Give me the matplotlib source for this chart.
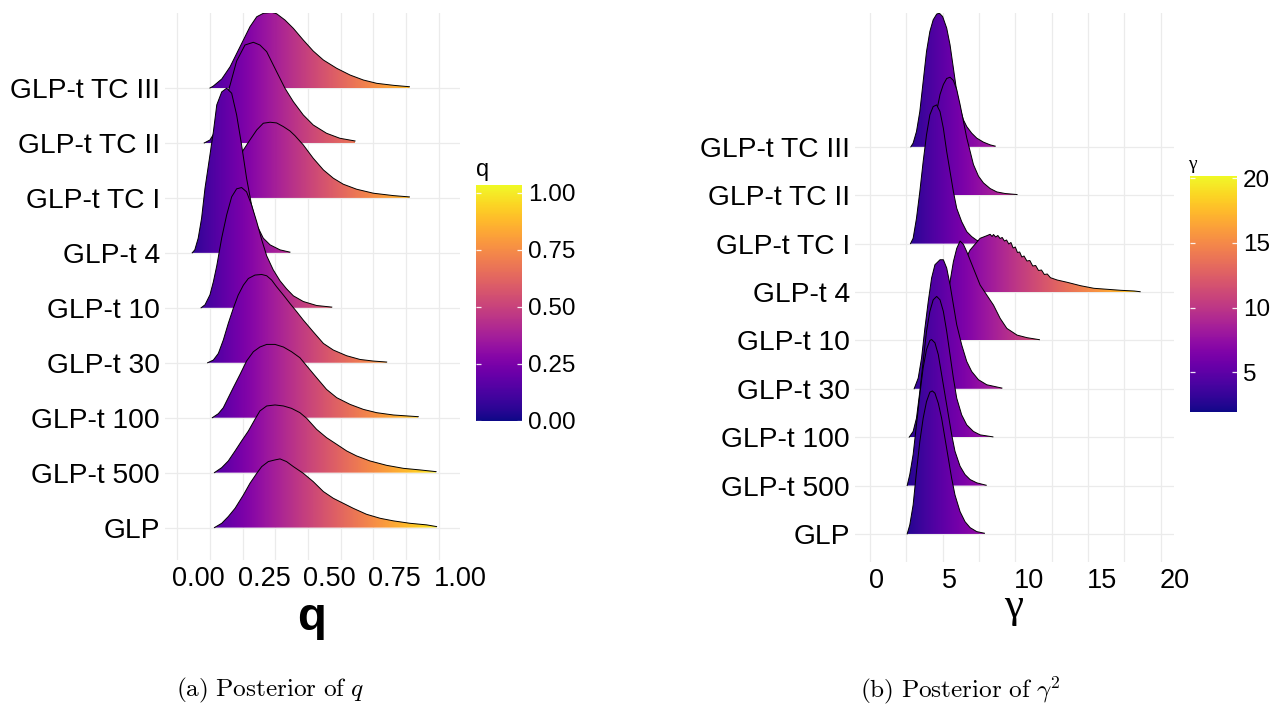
import numpy as np
import matplotlib
matplotlib.use('Agg')
import matplotlib.pyplot as plt
from matplotlib.patches import Polygon
from matplotlib.colors import Normalize
from matplotlib.cm import ScalarMappable
from matplotlib.transforms import ScaledTranslation

plt.rcParams['font.family'] = ['Liberation Sans', 'DejaVu Sans']
plt.rcParams['mathtext.fontset'] = 'cm'

cats = ['GLP', 'GLP-t 500', 'GLP-t 100', 'GLP-t 30', 'GLP-t 10',
        'GLP-t 4', 'GLP-t TC I', 'GLP-t TC II', 'GLP-t TC III']

# ---- posterior of q : traced density (relative height) ----
q_glp_x = [0.142, 0.170, 0.195, 0.221, 0.253, 0.278, 0.304, 0.323, 0.348, 0.374, 0.393, 0.418, 0.444,
           0.482, 0.520, 0.559, 0.597, 0.635, 0.673, 0.724, 0.776, 0.827, 0.890, 0.954, 0.992]
q_glp_d = [0, 4.3, 11, 19.3, 32.7, 44.3, 54.3, 61, 66, 67.7, 68.7, 66, 61,
           54.3, 46, 36, 29.3, 24.3, 19.3, 13.3, 9.3, 6.7, 4.3, 2.7, 1]
q_t500_x = [0.142, 0.170, 0.195, 0.221, 0.246, 0.272, 0.297, 0.316, 0.342, 0.374, 0.406, 0.437, 0.469,
            0.495, 0.533, 0.571, 0.610, 0.648, 0.686, 0.737, 0.801, 0.865, 0.929, 0.990]
q_t500_d = [0, 5, 11.7, 21.7, 31.7, 41.7, 53.3, 61.7, 66.7, 67.7, 66.7, 64.3, 60,
            54.3, 43.3, 35, 28.3, 21.7, 16.7, 11.7, 7.3, 4.3, 2.7, 1]
q_t100_x = [0.134, 0.157, 0.176, 0.195, 0.214, 0.240, 0.265, 0.291, 0.316, 0.342, 0.374, 0.406, 0.437,
            0.469, 0.501, 0.533, 0.571, 0.610, 0.661, 0.712, 0.763, 0.827, 0.922]
q_t100_d = [0, 4, 10, 20, 30, 43.3, 56.7, 66, 70.7, 73.3, 73.3, 70.7, 66,
            60, 50, 40, 28.3, 20, 13.3, 8.3, 5, 2.7, 1]
q_t30_x = [0.116, 0.138, 0.157, 0.176, 0.195, 0.214, 0.233, 0.253, 0.272, 0.297, 0.323, 0.342, 0.361,
           0.380, 0.406, 0.431, 0.457, 0.482, 0.520, 0.559, 0.597, 0.648, 0.699, 0.750, 0.801]
q_t30_d = [0, 2.7, 9.3, 22.7, 39.3, 54.3, 67.7, 77.7, 84.3, 87.7, 88.3, 87, 82.7,
           76, 67.7, 59.3, 51, 42.7, 31, 19.3, 12.7, 7, 3.3, 1.7, 0.7]
q_t10_x = [0.091, 0.106, 0.125, 0.138, 0.151, 0.170, 0.189, 0.208, 0.227, 0.246, 0.265, 0.284, 0.304,
           0.323, 0.342, 0.367, 0.393, 0.418, 0.444, 0.482, 0.533, 0.591]
q_t10_d = [0, 3, 13, 26, 42, 70, 93, 111, 119, 120.3, 116, 103, 86,
           68, 52, 38, 27, 19, 12, 6.3, 2.3, 0.7]
q_t4_x = [0.057, 0.067, 0.080, 0.093, 0.106, 0.125, 0.138, 0.151, 0.170, 0.189, 0.208, 0.227, 0.246,
          0.265, 0.284, 0.304, 0.329, 0.355, 0.393, 0.431]
q_t4_d = [0, 3, 14.7, 34.7, 64.7, 98, 121, 148, 161, 164.7, 159.7, 138, 108,
          74.7, 48, 28, 14.7, 8, 3, 0.7]
q_tc1_x = [0.125, 0.157, 0.189, 0.221, 0.253, 0.278, 0.304, 0.329, 0.355, 0.380, 0.406, 0.431, 0.450,
           0.482, 0.520, 0.559, 0.597, 0.635, 0.686, 0.750, 0.827, 0.888]
q_tc1_d = [0, 5, 15, 32, 48, 58, 68, 74.7, 75.7, 75, 71.3, 67, 62.3,
           53, 39.7, 28, 19.7, 13.7, 8.7, 4.7, 2.3, 1]
q_tc2_x = [0.103, 0.125, 0.151, 0.176, 0.202, 0.227, 0.259, 0.291, 0.316, 0.342, 0.380, 0.412, 0.444,
           0.482, 0.520, 0.571, 0.622, 0.680]
q_tc2_d = [0, 3, 14, 35, 58, 82, 98, 100.7, 98, 91.3, 71.3, 54.7, 41.3,
           28, 18, 9.7, 4.7, 2]
q_tc3_x = [0.125, 0.138, 0.170, 0.202, 0.240, 0.278, 0.304, 0.329, 0.361, 0.380, 0.412, 0.444, 0.482,
           0.520, 0.559, 0.610, 0.661, 0.712, 0.763, 0.827, 0.888]
q_tc3_d = [0, 2, 9, 21.3, 41.3, 61.3, 71.3, 74.7, 75.7, 74.3, 68, 59.7, 48,
           37, 28, 19.7, 13, 8, 4.7, 2.7, 1.3]

# ---- posterior of gamma : traced density (relative height) ----
g_glp_x = [2.56, 2.74, 2.97, 3.20, 3.43, 3.66, 3.89, 4.12, 4.29, 4.47, 4.70, 4.93, 5.16, 5.39,
           5.62, 5.85, 6.20, 6.54, 6.89, 7.35, 7.88]
g_glp_d = [0, 9, 29, 62.3, 92.3, 115.7, 132.3, 141.7, 143, 140.7, 130.7, 115.7, 95.7, 75.7,
           55.7, 39, 22.3, 12.3, 6.3, 2.3, 0.7]
g_t500_x = [2.56, 2.74, 2.97, 3.20, 3.43, 3.66, 3.89, 4.12, 4.24, 4.47, 4.70, 4.93, 5.16, 5.39,
            5.62, 5.85, 6.20, 6.54, 6.89, 7.35, 8.00]
g_t500_d = [0, 11, 31, 61, 91, 117.7, 136, 145, 146, 142.7, 131, 111, 91, 71,
            51, 34.3, 19.3, 11, 6, 2.7, 0.3]
g_t100_x = [2.70, 2.97, 3.20, 3.43, 3.66, 3.89, 4.12, 4.35, 4.59, 4.82, 5.05, 5.28, 5.51, 5.74,
            5.97, 6.31, 6.66, 7.12, 7.58, 8.46]
g_t100_d = [0, 5.7, 19, 45.7, 75.7, 105.7, 125.7, 137.3, 140.7, 137.3, 125.7, 105.7, 82.3, 59,
            39, 22.3, 12.3, 5.7, 2.3, 0.3]
g_t30_x = [3.04, 3.32, 3.55, 3.78, 4.01, 4.24, 4.47, 4.82, 5.05, 5.28, 5.51, 5.74, 5.97, 6.31,
           6.66, 7.00, 7.47, 8.04, 9.08]
g_t30_d = [0, 10.7, 30.7, 60.7, 87.3, 110.7, 124, 129, 129, 120.7, 104, 84, 64, 44,
           27.3, 17.3, 9, 4, 0.7]
g_t10_x = [3.8, 4.1, 4.5, 4.9, 5.2, 5.39, 5.51, 5.74, 5.97, 6.20, 6.43, 6.66, 7.12,
           7.58, 8.04, 8.50, 8.96, 9.42, 10.12, 10.81, 11.66]
g_t10_d = [0, 4, 14, 28, 41, 48.7, 58.7, 78.7, 92, 99.3, 96, 88.7, 72,
           55.3, 45.3, 35.3, 22, 12, 5.3, 2.7, 0.7]
g_t4_x = [4.17, 4.82, 5.51, 6.20, 6.89, 7.58, 8.04, 8.27, 8.4, 8.5, 8.65, 8.8, 8.95, 9.1,
          9.25, 9.4, 9.55, 9.7, 9.85, 10.0, 10.15, 10.3, 10.45, 10.6, 10.8, 11.0, 11.2, 11.4,
          11.6, 11.8, 12.0, 12.2, 12.42, 12.88, 13.57, 14.49, 15.41, 16.34, 17.26, 18.18, 18.59]
g_t4_d = [0, 3, 10, 22, 42, 53.7, 56.3, 57.7, 55.5, 57.5, 55, 56.5, 53.5, 54.5,
          51, 52, 48, 49.5, 44, 45, 39.5, 40, 35, 36, 31, 31.5, 26, 26.5,
          21.5, 22, 17.5, 18, 14.3, 12, 9.7, 6.3, 3.7, 2.7, 1.7, 1, 0.3]
g_tc1_x = [2.79, 2.97, 3.20, 3.43, 3.66, 3.89, 4.12, 4.35, 4.59, 4.82, 5.05, 5.28, 5.51, 5.74,
           5.97, 6.31, 6.66, 7.00, 7.35, 7.81, 8.50]
g_tc1_d = [0, 5.3, 25.3, 52, 82, 108.7, 128.7, 137, 138.7, 132, 115.3, 92, 72, 52,
           35.3, 22, 12, 7, 3.3, 1.5, 0.5]
g_tc2_x = [3.43, 3.66, 3.89, 4.12, 4.35, 4.59, 4.82, 5.05, 5.28, 5.51, 5.74, 5.97, 6.20, 6.43,
           6.66, 6.89, 7.12, 7.47, 7.81, 8.27, 8.73, 9.31, 10.12]
g_tc2_d = [0, 4, 14, 34, 60.7, 84, 100.7, 110.7, 116.7, 118, 114.7, 105.7, 90.7, 74,
           57.3, 44, 30.7, 19, 12.3, 6.7, 3.3, 1.7, 0.7]
g_tc3_x = [2.81, 2.97, 3.20, 3.43, 3.66, 3.89, 4.12, 4.35, 4.59, 4.77, 5.00, 5.28, 5.51, 5.74,
           5.97, 6.20, 6.43, 6.66, 7.00, 7.35, 7.81, 8.27, 8.62]
g_tc3_d = [0, 3.7, 15.3, 35.3, 65.3, 95.3, 115.3, 127, 132.7, 133.7, 130.3, 118.7, 102, 78.7,
           55.3, 38.7, 27, 20.3, 13.7, 8.7, 4.7, 2, 0.7]

q_curves = [(q_glp_x, q_glp_d), (q_t500_x, q_t500_d), (q_t100_x, q_t100_d), (q_t30_x, q_t30_d),
            (q_t10_x, q_t10_d), (q_t4_x, q_t4_d), (q_tc1_x, q_tc1_d), (q_tc2_x, q_tc2_d),
            (q_tc3_x, q_tc3_d)]
g_curves = [(g_glp_x, g_glp_d), (g_t500_x, g_t500_d), (g_t100_x, g_t100_d), (g_t30_x, g_t30_d),
            (g_t10_x, g_t10_d), (g_t4_x, g_t4_d), (g_tc1_x, g_tc1_d), (g_tc2_x, g_tc2_d),
            (g_tc3_x, g_tc3_d)]

q_ticks = [0, 0.25, 0.5, 0.75, 1.0]
q_ticklabels = ['0.00', '0.25', '0.50', '0.75', '1.00']
g_ticks = [0, 5, 10, 15, 20]


def ridges(ax, curves, scale, norm):
    n = len(curves)
    for i in range(n - 1, -1, -1):
        xs, ds = curves[i]
        x = np.array(xs)
        y = i + np.array(ds) * scale
        z = 2 + (n - i)
        verts = list(zip(x, y)) + [(x[-1], i), (x[0], i)]
        poly = Polygon(verts, closed=True, facecolor='none', edgecolor='none')
        ax.add_patch(poly)
        grad = np.linspace(x[0], x[-1], 400).reshape(1, -1)
        im = ax.imshow(grad, extent=(x[0], x[-1], i, y.max()), origin='lower',
                       cmap='plasma', norm=norm, aspect='auto', zorder=z,
                       interpolation='bilinear')
        im.set_clip_path(poly)
        ax.plot(x, y, color='black', lw=0.7, zorder=z + 0.5)


def style(ax, fig, xdx):
    for s in ax.spines.values():
        s.set_visible(False)
    ax.set_yticks(range(len(cats)))
    ax.set_yticklabels(cats)
    ax.tick_params(axis='both', which='both', length=0, colors='black')
    ax.tick_params(axis='x', labelsize=19.5, pad=4.5)
    ax.tick_params(axis='y', labelsize=20.3, pad=3.6)
    ax.grid(True, which='both', color='#ebebeb', lw=0.9)
    ax.set_axisbelow(True)
    for lab in ax.get_xticklabels():
        lab.set_horizontalalignment('left')
        lab.set_transform(lab.get_transform() + ScaledTranslation(xdx / 100, 0, fig.dpi_scale_trans))


W, H = 1281, 712
fig = plt.figure(figsize=(W / 100, H / 100), dpi=100)

# left panel: q
ax1 = fig.add_axes([165 / W, 1 - 560 / H, 295 / W, 546.7 / H])
norm_q = Normalize(0, 1.034)
ridges(ax1, q_curves, 1 / 54.96, norm_q)
ax1.set_xticks(q_ticks)
ax1.set_xticklabels(q_ticklabels)
ax1.set_xticks([0.125, 0.375, 0.625, 0.875], minor=True)
ax1.set_xlim(-0.047, 1.0815)
ax1.set_ylim(-0.59, 9.36)
style(ax1, fig, -5)
fig.text(312 / W, 1 - 630 / H, 'q', ha='center', va='baseline', fontsize=34, fontweight='bold')

# right panel: gamma
ax2 = fig.add_axes([855 / W, 1 - 562 / H, 319 / W, 548.7 / H])
norm_g = Normalize(1.91, 20.2)
ridges(ax2, g_curves, 1 / 48.375, norm_g)
ax2.set_xticks(g_ticks)
ax2.set_xticks([2.5, 7.5, 12.5, 17.5], minor=True)
ax2.set_xlim(-1.03, 20.92)
ax2.set_ylim(-0.58, 10.76)
style(ax2, fig, -1)
fig.text(1014 / W, 1 - 617 / H, 'γ', ha='center', va='baseline', fontsize=31,
         family=['Liberation Serif', 'DejaVu Serif'])

# colour bars
def colourbar(rect, norm, ticks, labels, title, title_xy, title_kw):
    cax = fig.add_axes(rect)
    cb = fig.colorbar(ScalarMappable(norm=norm, cmap='plasma'), cax=cax)
    cb.outline.set_visible(False)
    cb.set_ticks(ticks)
    cb.set_ticklabels(labels)
    cax.tick_params(length=0, labelsize=17.5, pad=4)
    for t in ticks:
        cax.hlines(t, 0, 0.11, colors='white', lw=0.9, alpha=0.9)
        cax.hlines(t, 0.89, 1, colors='white', lw=0.9, alpha=0.9)
    fig.text(title_xy[0] / W, 1 - title_xy[1] / H, title, ha='left', va='baseline', **title_kw)


colourbar([475.7 / W, 1 - 420.7 / H, 46.6 / W, 235.7 / H], norm_q, q_ticks, q_ticklabels,
          'q', (475.7, 176), dict(fontsize=17))
colourbar([1190 / W, 1 - 412.3 / H, 47.3 / W, 236.6 / H], norm_g, [5, 10, 15, 20],
          ['5', '10', '15', '20'], 'γ', (1188, 169),
          dict(fontsize=14, family=['Liberation Serif', 'DejaVu Serif']))

# captions
fig.text(270 / W, 1 - 690 / H, r'$\mathrm{(a)\ Posterior\ of\ }q$', ha='center', va='center',
         fontsize=18.2)
fig.text(960 / W, 1 - 690 / H, r'$\mathrm{(b)\ Posterior\ of\ }\gamma^2$', ha='center',
         va='center', fontsize=18.2)

fig.savefig('out.png', dpi=100, facecolor='white')
